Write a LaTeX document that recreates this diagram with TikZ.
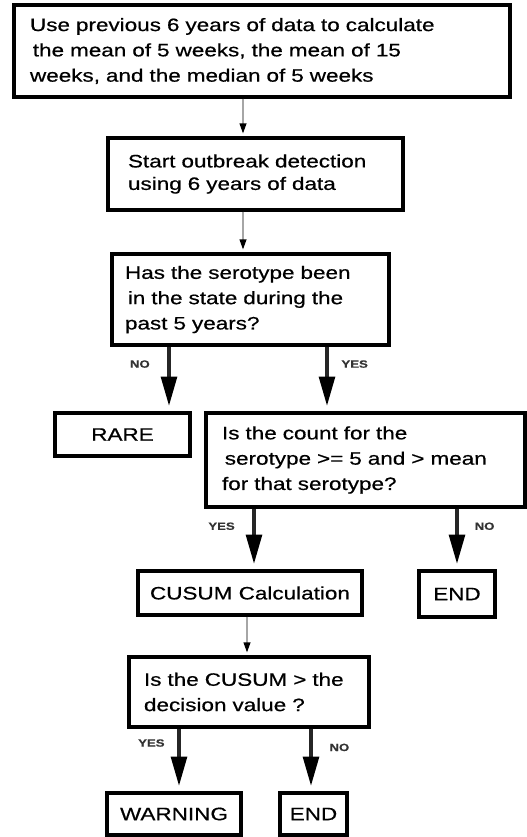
\documentclass[tikz,border=0pt]{standalone}
\usepackage{fontspec}
\setmainfont{Liberation Sans}[FakeStretch=1.25,FakeBold=0.6]
\usetikzlibrary{arrows.meta,positioning}
\begin{document}
\begin{tikzpicture}[
  box/.style={draw,line width=2.2pt,align=left,inner ysep=0pt,font=\fontsize{12.8pt}{18pt}\selectfont},
  endbox/.style={draw,line width=2.2pt,align=center,inner sep=0pt,font=\fontsize{12.8pt}{18pt}\selectfont},
  thin/.style={draw=gray!70,line width=1pt,-{Triangle[length=0.25cm,width=0.17cm,black]},shorten >=0.075cm},
  thick/.style={draw=black!85,line width=3.5pt,-{Triangle[length=0.75cm,width=0.38cm,black]},shorten >=0.12cm},
  lbl/.style={font=\fontsize{7.5pt}{8pt}\selectfont\bfseries,inner sep=0pt,text=black!80}
]
\useasboundingbox (0,0) rectangle (13.15,-20.925);
% boxes
\node[box,text width=11.6cm,inner xsep=0.4cm,minimum height=2.3cm] (prev) at (6.55,-1.275)
  {Use previous 6 years of data to calculate\\\hspace{2pt}the mean of 5 weeks, the mean of 15\\weeks, and the median of 5 weeks};
\node[box,text width=6.375cm,inner xsep=0.5cm,minimum height=1.8cm,font=\fontsize{12.8pt}{16pt}\selectfont] (start) at (6.3875,-4.35)
  {Start outbreak detection\\using 6 years of data};
\node[box,text width=6.275cm,inner xsep=0.325cm,minimum height=2.275cm] (state) at (6.2625,-7.4875)
  {Has the serotype been\\\hspace{2pt}in the state during the\\past 5 years?};
\node[endbox,minimum width=3.375cm,minimum height=1.075cm] (rare) at (3.0625,-10.8625) {RARE};
\node[box,text width=7.175cm,inner xsep=0.4cm,minimum height=2.35cm] (count) at (9.1375,-11.5)
  {Is the count for the\\\hspace{2pt}serotype >= 5 and > mean\\for that serotype?};
\node[endbox,minimum width=5.6cm,minimum height=1.1cm] (cusum) at (6.25,-14.825) {CUSUM Calculation};
\node[endbox,minimum width=1.9cm,minimum height=1.15cm] (end1) at (11.425,-14.85) {END};
\node[box,text width=5.25cm,inner xsep=0.375cm,minimum height=1.75cm] (dec) at (6.225,-17.3)
  {Is the CUSUM > the\\decision value ?};
\node[endbox,minimum width=3.35cm,minimum height=1.05cm] (warn) at (4.35,-20.35) {WARNING};
\node[endbox,minimum width=1.675cm,minimum height=1.05cm] (end2) at (7.8375,-20.35) {END};
% connectors
\draw[thin] ([xshift=-0.3125cm]start.north |- prev.south) -- ([xshift=-0.3125cm]start.north);
\draw[thin] ([xshift=-0.1875cm]state.north |- start.south) -- ([xshift=-0.1875cm]state.north);
\draw[thick] ([xshift=1.1625cm]rare.north |- state.south) -- ([xshift=1.1625cm]rare.north)
  node[lbl,pos=0.27,left=0.42cm]{NO};
\draw[thick] ([xshift=-0.9625cm]count.north |- state.south) -- ([xshift=-0.9625cm]count.north)
  node[lbl,pos=0.27,right=0.3cm]{YES};
\draw[thick] ([xshift=0.1cm]cusum.north |- count.south) -- ([xshift=0.1cm]cusum.north)
  node[lbl,pos=0.29,left=0.42cm]{YES};
\draw[thick] (end1.north |- count.south) -- (end1.north)
  node[lbl,pos=0.29,right=0.38cm]{NO};
\draw[thin] ([xshift=-0.05cm]dec.north |- cusum.south) -- ([xshift=-0.05cm]dec.north);
\draw[thick] ([xshift=0.125cm]warn.north |- dec.south) -- ([xshift=0.125cm]warn.north)
  node[lbl,pos=0.23,left=0.3cm]{YES};
\draw[thick] ([xshift=-0.0625cm]end2.north |- dec.south) -- ([xshift=-0.0625cm]end2.north)
  node[lbl,pos=0.3,right=0.4cm]{NO};
\end{tikzpicture}
\end{document}
